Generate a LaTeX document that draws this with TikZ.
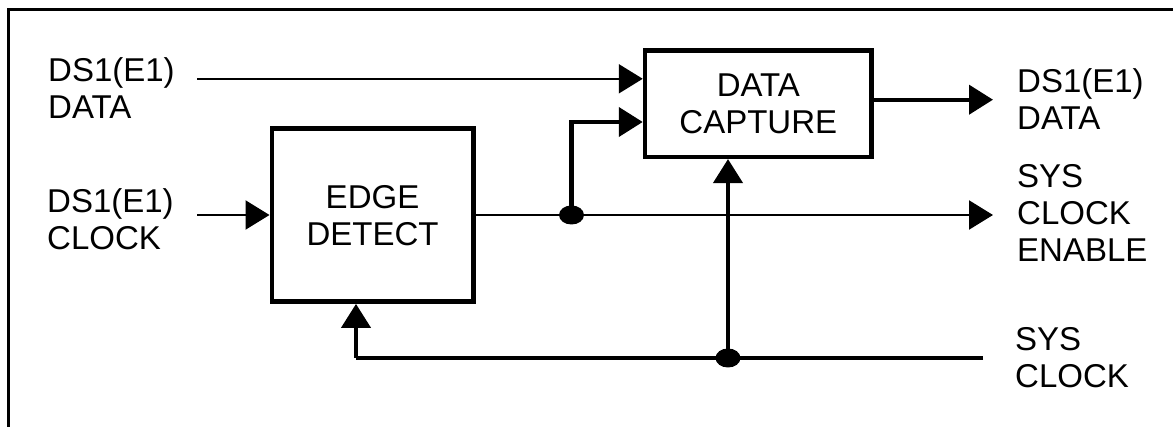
\documentclass[tikz,border=0pt]{standalone}
\usepackage{fontspec}
\setmainfont{Liberation Sans}
\usetikzlibrary{arrows.meta}
\begin{document}
\begin{tikzpicture}[x=1pt,y=-1pt,
  thin wire/.style={line width=2.2pt},
  thick wire/.style={line width=4.2pt},
  tip/.style={-{Triangle[length=24pt,width=29pt]}},
  block/.style={draw,line width=4.4pt,rectangle,inner sep=0pt,align=center,
    font=\fontsize{33}{37}\selectfont},
  label/.style={inner sep=0pt,align=left,anchor=base west,
    font=\fontsize{33}{37}\selectfont},
  frame/.style={line width=3pt}]
  \useasboundingbox (0,0) rectangle (1173,427);
  \clip (0,0) rectangle (1173,427);

  % outer frame
  \coordinate (fbl) at (8,440);
  \coordinate (ftl) at (8,9.5);
  \coordinate (ftr) at (1180,9.5);
  \draw[frame] (fbl) -- (ftl) -- (ftr);

  % blocks
  \node[block,minimum width=201.6pt,minimum height=173pt] (ed) at (372.5,215.2)
    {EDGE\\DETECT};
  \node[block,minimum width=226.7pt,minimum height=106.3pt] (dc) at (758.3,103.7)
    {DATA\\CAPTURE};

  % signal labels (anchored at the baseline of their last line)
  \node[label] (lDin)  at (48,118.3)  {DS1(E1)\\DATA};
  \node[label] (lCin)  at (47,250)    {DS1(E1)\\CLOCK};
  \node[label] (lDout) at (1017,130)  {DS1(E1)\\DATA};
  \node[label] (lEn)   at (1017,261.7){SYS\\CLOCK\\ENABLE};
  \node[label] (lSys)  at (1015,388)  {SYS\\CLOCK};

  % wire end points and junctions
  \coordinate (dinS)  at (197,78.8);
  \coordinate (cinS)  at (197,215);
  \coordinate (enE)   at (993,215);
  \coordinate (doutE) at (993,99.7);
  \coordinate (sysS)  at (983,358);
  \coordinate (j1)    at (571.5,215);
  \coordinate (j2)    at (728,358);
  \coordinate (corner1) at (571.5,122);
  \coordinate (corner2) at (356,358);

  % data path
  \draw[thin wire,tip] (dinS) -- (dinS -| dc.west);
  \draw[thick wire,tip] (j1) -- (corner1) -- (corner1 -| dc.west);
  \draw[thick wire,tip] (dc.east |- doutE) -- (doutE);

  % clock path
  \draw[thin wire,tip] (cinS) -- (cinS -| ed.west);
  \draw[thin wire,tip] (ed.east |- enE) -- (enE);
  \draw[thick wire] (sysS) -- (corner2);
  \draw[thick wire,tip] (corner2) -- (corner2 |- ed.south);
  \draw[thick wire,tip] (j2) -- (j2 |- dc.south);

  % junction dots
  \fill (j1) ellipse [x radius=12.5pt,y radius=9.5pt];
  \fill (j2) ellipse [x radius=12.5pt,y radius=9.5pt];
\end{tikzpicture}
\end{document}
